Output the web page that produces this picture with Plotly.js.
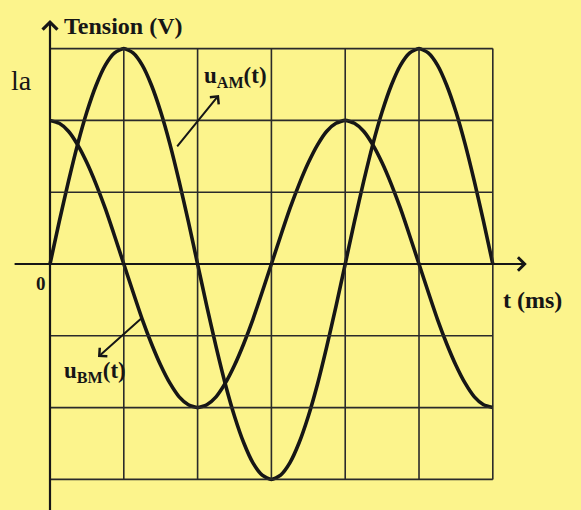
<!DOCTYPE html>
<html>
<head>
<meta charset="utf-8">
<script src="https://cdn.plot.ly/plotly-3.0.1.min.js"></script>
<style>html,body{margin:0;padding:0;background:#fcf48c;}#chart{width:581px;height:510px;}</style>
</head>
<body>
<div id="chart"></div>
<script>
// time in grid divisions (ms)
const t = [0,0.125,0.25,0.375,0.5,0.625,0.75,0.875,1,1.125,1.25,1.375,1.5,1.625,1.75,1.875,2,
           2.125,2.25,2.375,2.5,2.625,2.75,2.875,3,3.125,3.25,3.375,3.5,3.625,3.75,3.875,4,
           4.125,4.25,4.375,4.5,4.625,4.75,4.875,5,5.125,5.25,5.375,5.5,5.625,5.75,5.875,6];
// u_AM(t) in vertical divisions
const uAM = [0,0.59,1.15,1.67,2.12,2.49,2.77,2.94,3,2.94,2.77,2.49,2.12,1.67,1.15,0.59,0,
             -0.59,-1.15,-1.67,-2.12,-2.49,-2.77,-2.94,-3,-2.94,-2.77,-2.49,-2.12,-1.67,-1.15,-0.59,0,
             0.59,1.15,1.67,2.12,2.49,2.77,2.94,3,2.94,2.77,2.49,2.12,1.67,1.15,0.59,0];
// u_BM(t) in vertical divisions
const uBM = [2,1.96,1.85,1.66,1.41,1.11,0.77,0.39,0,-0.39,-0.77,-1.11,-1.41,-1.66,-1.85,-1.96,-2,
             -1.96,-1.85,-1.66,-1.41,-1.11,-0.77,-0.39,0,0.39,0.77,1.11,1.41,1.66,1.85,1.96,2,
             1.96,1.85,1.66,1.41,1.11,0.77,0.39,0,-0.39,-0.77,-1.11,-1.41,-1.66,-1.85,-1.96,-2];
const xGrid = [1,2,3,4,5,6];
const yGrid = [-3,-2,-1,1,2,3];

const ink = '#161616';
const bg = '#fcf48c';
const serif = 'Liberation Serif, Times New Roman, serif';

const shapes = [];
xGrid.forEach(v => shapes.push({type:'line', xref:'x', yref:'y', x0:v, x1:v, y0:-3, y1:3, line:{color:'#2a2a2a', width:1.6}}));
yGrid.forEach(v => shapes.push({type:'line', xref:'x', yref:'y', x0:0, x1:6, y0:v, y1:v, line:{color:'#2a2a2a', width:1.6}}));

const traces = [
  {x:t, y:uAM, mode:'lines', line:{shape:'spline', smoothing:0.6, color:ink, width:3.6}, hoverinfo:'skip'},
  {x:t, y:uBM, mode:'lines', line:{shape:'spline', smoothing:0.6, color:ink, width:3.6}, hoverinfo:'skip'}
];

function arrow(x0,y0,x1,y1,w,size){
  return {x:x1, y:y1, ax:x0, ay:y0, xref:'x', yref:'y', axref:'x', ayref:'y', text:'', showarrow:true,
          arrowhead:4, arrowsize:size, arrowwidth:w, arrowcolor:ink, standoff:0, startstandoff:0};
}
function label(txt,x,y,size,anchor,bold){
  return {x:x, y:y, xref:'x', yref:'y', text: bold ? '<b>'+txt+'</b>' : txt, showarrow:false,
          xanchor:anchor, yanchor:'middle', font:{family:serif, size:size, color:ink}};
}

const annotations = [
  arrow(0,-3.45,0,3.40,2.2,1.3),
  arrow(-0.5,0,6.46,0,2.0,1.3),
  arrow(1.707,1.616,2.29,2.354,2.0,1.1),
  arrow(1.26,-0.738,0.65,-1.295,2.0,1.1),
  label('Tension (V)',0.16,3.32,24,'left',true),
  label('la',-0.38,2.56,28,'center',false),
  label('0',-0.12,-0.27,19,'center',true),
  label('t (ms)',6.11,-0.50,24,'left',true),
  label('u<sub>AM</sub>(t)',2.06,2.60,23,'left',true),
  label('u<sub>BM</sub>(t)',0.16,-1.50,23,'left',true)
];

const layout = {
  width:581, height:510,
  margin:{l:0, r:0, t:0, b:0},
  paper_bgcolor:bg, plot_bgcolor:bg,
  showlegend:false,
  xaxis:{range:[-0.6775,7.195], visible:false, fixedrange:true},
  yaxis:{range:[-3.426,3.677], visible:false, fixedrange:true},
  shapes:shapes,
  annotations:annotations
};

Plotly.newPlot('chart', traces, layout, {displayModeBar:false, staticPlot:true});
</script>
</body>
</html>
